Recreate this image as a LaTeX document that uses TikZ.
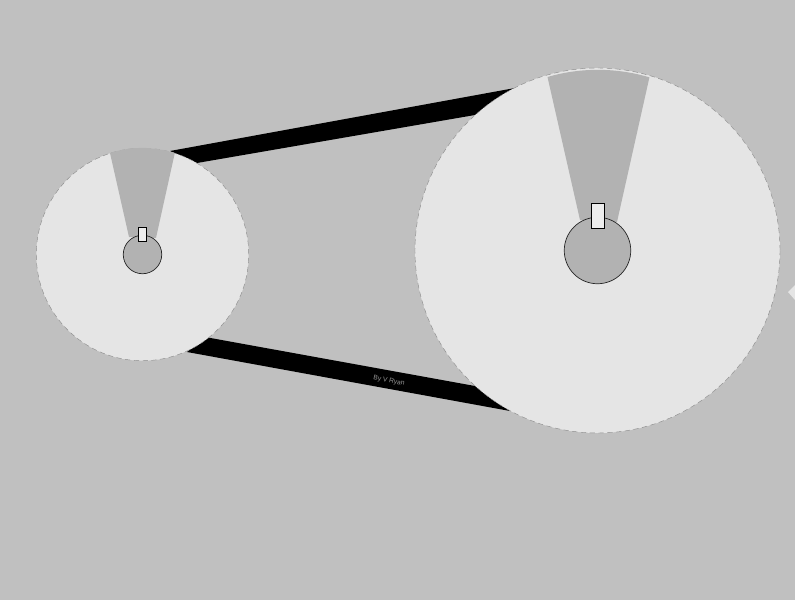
\documentclass[tikz,border=0pt]{standalone}
\usepackage{xcolor}
\usepackage{fontspec}
\setmainfont{Liberation Sans}
\usetikzlibrary{positioning}
\definecolor{bgrey}{HTML}{C0C0C0}
\definecolor{wheelface}{HTML}{E5E5E5}
\definecolor{sectgrey}{HTML}{B2B2B2}
\definecolor{keyface}{HTML}{EDEDED}

\begin{document}
\begin{tikzpicture}[
  wheel/.style={
    circle, draw=black!45, line width=0.25pt, densely dashed,
    fill=wheelface, inner sep=0pt
  },
  hub/.style={
    circle, draw=black!85, line width=0.4pt,
    fill=sectgrey, inner sep=0pt
  },
  keyway/.style={
    rectangle, draw=black, line width=0.5pt,
    fill=keyface, inner sep=0pt
  },
  belt/.style={fill=black},
  sect/.style={fill=sectgrey}
]
\useasboundingbox (0,0) rectangle (15.9,12);
\fill[bgrey] (0,0) rectangle (15.9,12);

%=== BELT ENDS ===
\coordinate (ua) at (3.40,8.98);
\coordinate (ub) at (10.30,10.24);
\coordinate (uc) at (9.50,9.70);
\coordinate (ud) at (3.94,8.74);
\coordinate (la) at (4.10,5.26);
\coordinate (lb) at (9.50,4.28);
\coordinate (lc) at (10.20,3.78);
\coordinate (ld) at (3.74,4.96);

%=== BELT ===
\fill[belt] (ua) -- (ub) -- (uc) -- (ud) -- cycle;
\fill[belt] (la) -- (lb) -- (lc) -- (ld) -- cycle;
\node[font=\fontsize{3.8}{4}\selectfont, text=gray!80, rotate=-10.5, inner sep=0pt] (maker) at (7.78,4.38) {By V Ryan};

%=== PULLEYS ===
\node[wheel, minimum size=4.25cm] (small) at (2.85,6.91) {};
\node[wheel, minimum size=7.30cm] (large) at (11.95,6.99) {};

%=== SECTORS ===
\fill[sect] (2.20,8.94) arc[start angle=107.8, end angle=72.2, radius=2.12] -- (3.12,7.24) -- (2.58,7.26) -- cycle;
\fill[sect] (10.95,10.46) arc[start angle=106.2, end angle=73.4, radius=3.61] -- (12.34,7.56) -- (11.60,7.60) -- cycle;

%=== HUBS AND KEYS ===
\node[hub, minimum size=0.77cm] (smallhub) at (2.85,6.91) {};
\node[hub, minimum size=1.33cm] (largehub) at (11.95,6.99) {};
\node[keyway, minimum width=0.16cm, minimum height=0.28cm] (smallkey) at (2.84,7.32) {};
\node[keyway, minimum width=0.26cm, minimum height=0.50cm] (largekey) at (11.95,7.69) {};

%=== EDGE MARK ===
\fill[wheelface] (15.76,6.16) -- (15.9,6.30) -- (15.9,6.00) -- cycle;

\end{tikzpicture}
\end{document}
